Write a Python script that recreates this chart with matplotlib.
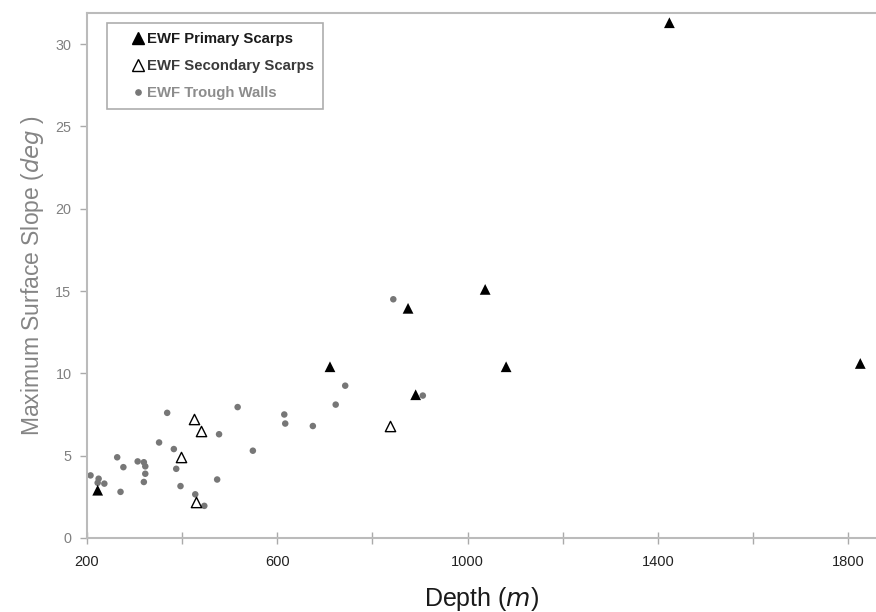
import numpy as np
import matplotlib
matplotlib.use("Agg")
import matplotlib.pyplot as plt
from matplotlib.lines import Line2D
from matplotlib.legend_handler import HandlerLine2D

plt.rcParams['font.family'] = ['Liberation Sans', 'DejaVu Sans']

# EWF primary scarps (depth m, max slope deg)
primary_depth = [223, 711, 875, 891, 1037, 1081, 1424, 1825]
primary_slope = [2.9, 10.4, 13.95, 8.7, 15.1, 10.4, 31.3, 10.6]

# EWF secondary scarps
secondary_depth = [397, 425, 430, 440, 837]
secondary_slope = [4.9, 7.2, 2.2, 6.5, 6.8]

# EWF trough walls
trough_depth = [208, 225, 237, 223, 264, 277, 271, 307, 320, 323, 323, 320,
                352, 369, 383, 388, 397, 428, 447, 474, 478, 517, 549, 615,
                617, 675, 723, 743, 844, 906]
trough_slope = [3.8, 3.6, 3.3, 3.35, 4.9, 4.3, 2.8, 4.65, 4.6, 4.35, 3.9, 3.4,
                5.8, 7.6, 5.4, 4.2, 3.15, 2.65, 1.95, 3.55, 6.3, 7.95, 5.3, 7.5,
                6.95, 6.8, 8.1, 9.25, 14.5, 8.65]

x_ticks = [200, 400, 600, 800, 1000, 1200, 1400, 1600, 1800]
x_labels = ['200', '', '600', '', '1000', '', '1400', '', '1800']
y_ticks = [0, 5, 10, 15, 20, 25, 30]

fig = plt.figure(figsize=(8.76, 6.12), dpi=100)
ax = fig.add_axes([0.099, 0.121, 0.901, 0.858])

ax.scatter(trough_depth, trough_slope, s=22, color='#777777', zorder=2,
           edgecolors='none')
ax.scatter(secondary_depth, secondary_slope, s=55, marker='^', facecolor='white',
           edgecolor='black', linewidths=1.0, zorder=3)
ax.scatter(primary_depth, primary_slope, s=60, marker='^', color='black',
           edgecolors='none', zorder=3)

ax.set_xlim(200, 1858)
ax.set_ylim(0, 31.9)
ax.set_xticks(x_ticks)
ax.set_xticklabels(x_labels)
ax.set_yticks(y_ticks)

for side in ['left', 'bottom', 'top']:
    ax.spines[side].set_color('#bbbbbb')
    ax.spines[side].set_linewidth(1.5)
ax.spines['right'].set_visible(False)

ax.tick_params(axis='x', direction='inout', length=8, width=1, color='#aaaaaa',
               labelsize=10.5, labelcolor='#222222', pad=8)
ax.tick_params(axis='y', direction='out', length=5, width=1, color='#aaaaaa',
               labelsize=10.4, labelcolor='#808080', pad=6)

ax.set_xlabel('Depth ($\\mathit{m}$)', fontsize=18, color='#1a1a1a', labelpad=12)
ax.set_ylabel('Maximum Surface Slope ($\\mathit{deg}$ )', fontsize=16.5,
              color='#858585', labelpad=7)

handles = [
    Line2D([], [], marker='^', color='black', linestyle='none', markersize=8.5),
    Line2D([], [], marker='^', markerfacecolor='white', markeredgecolor='black',
           linestyle='none', markersize=8),
    Line2D([], [], marker='o', color='#777777', linestyle='none', markersize=3.8),
]
leg = ax.legend(handles, ['EWF Primary Scarps', 'EWF Secondary Scarps', 'EWF Trough Walls'],
                loc='upper left', bbox_to_anchor=(0.026, 0.981), borderaxespad=0,
                fancybox=False, edgecolor='#999999',
                prop={'size': 10.7, 'weight': 'bold'},
                handler_map={Line2D: HandlerLine2D(xpad=1.0)},
                handletextpad=0.1, handlelength=2.0, borderpad=0.6, labelspacing=0.9)
leg.get_frame().set_linewidth(1.2)
for txt, col in zip(leg.get_texts(), ['#1a1a1a', '#3a3a3a', '#8c8c8c']):
    txt.set_color(col)

fig.savefig('out.png', dpi=100)
